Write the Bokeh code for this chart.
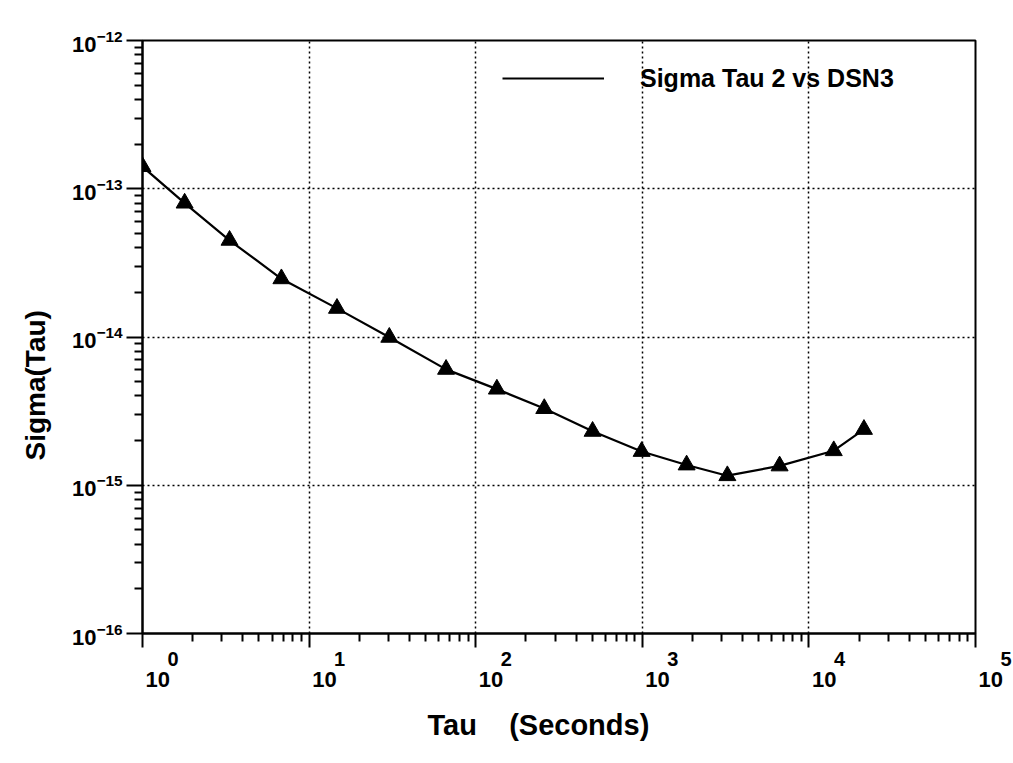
from bokeh.plotting import figure
from bokeh.models import (Range1d, Legend, LegendItem, FixedTicker, LogAxis, Title)
from bokeh.embed import file_html
from bokeh.resources import INLINE

# ---- data ----
tau = [1.0, 1.79, 3.33, 6.82, 14.7, 30.3, 66.4, 134, 258, 503, 991,
       1845, 3240, 6670, 14100, 21400]
sigma = [1.41e-13, 8.0e-14, 4.49e-14, 2.47e-14, 1.56e-14, 9.95e-15,
         6.05e-15, 4.45e-15, 3.29e-15, 2.31e-15, 1.69e-15, 1.37e-15,
         1.16e-15, 1.35e-15, 1.71e-15, 2.38e-15]

series_name = "Sigma Tau 2 vs DSN3"
x_title = "Tau\u00a0\u00a0\u00a0\u00a0(Seconds)"
y_title = "Sigma(Tau)"

x_tick_values = [1, 10, 100, 1000, 10000, 100000]
x_tick_exponents = ["0", "1", "2", "3", "4", "5"]
y_tick_values = [1e-12, 1e-13, 1e-14, 1e-15, 1e-16]

FONT_NAME = "Liberation Sans"
NB = "\u00a0"

p = figure(width=1012, height=762, x_axis_type="log", y_axis_type="log",
           x_range=Range1d(1, 1e5), y_range=Range1d(1e-16, 1e-12),
           output_backend="svg", toolbar_location=None,
           min_border_left=140, min_border_right=37,
           min_border_top=40, min_border_bottom=129)
p.background_fill_color = "white"
p.border_fill_color = "white"
p.outline_line_color = "black"
p.outline_line_width = 2

x_minor = [m * 10 ** k for k in range(0, 5) for m in range(2, 10)]
y_minor = [m * 10.0 ** k for k in range(-16, -12) for m in range(2, 10)]
p.xaxis.ticker = FixedTicker(ticks=x_tick_values, minor_ticks=x_minor)
p.yaxis.ticker = FixedTicker(ticks=y_tick_values, minor_ticks=y_minor)
p.xgrid.ticker = FixedTicker(ticks=x_tick_values)
p.ygrid.ticker = FixedTicker(ticks=y_tick_values)

for ax in (p.xaxis[0], p.yaxis[0]):
    ax.axis_line_color = "black"
    ax.axis_line_width = 2
    ax.major_tick_line_color = "black"
    ax.major_tick_line_width = 2
    ax.minor_tick_line_color = "black"
    ax.minor_tick_line_width = 2
    ax.major_tick_in = 0
    ax.minor_tick_in = 0
    ax.minor_tick_out = 8
    ax.major_label_text_font = FONT_NAME
    ax.major_label_text_font_style = "bold"
    ax.major_label_text_color = "black"
p.xaxis.major_tick_out = 14
p.yaxis.major_tick_out = 16

# y tick labels: library's own 10^n superscript labels
p.yaxis.major_label_text_font_size = "22px"
p.yaxis.major_label_standoff = 4

# x tick labels: exponents on the main axis, the "10" on a second axis below
p.xaxis.major_label_text_font_size = "20px"
p.xaxis.major_label_standoff = 0
p.xaxis.major_label_overrides = {v: NB * 11 + e for v, e in zip(x_tick_values, x_tick_exponents)}

base_axis = LogAxis(ticker=FixedTicker(ticks=x_tick_values), axis_line_color=None,
                    major_tick_line_color=None, minor_tick_line_color=None,
                    major_tick_out=0, major_tick_in=0, minor_tick_out=0, minor_tick_in=0,
                    major_label_standoff=-6,
                    major_label_text_font=FONT_NAME, major_label_text_font_style="bold",
                    major_label_text_font_size="22px", major_label_text_color="black",
                    major_label_overrides={v: NB * 5 + "10" for v in x_tick_values})
p.add_layout(base_axis, "below")

for g in (p.xgrid[0], p.ygrid[0]):
    g.grid_line_color = "black"
    g.grid_line_width = 1.5
    g.grid_line_dash = "2 3"

r_line = p.line(tau, sigma, line_color="black", line_width=2.2)
p.scatter(tau, sigma, marker="triangle", size=17,
          fill_color="black", line_color="black")

legend = Legend(items=[LegendItem(label=series_name, renderers=[r_line])],
                location=(360, 540), orientation="vertical",
                glyph_width=102, glyph_height=30, label_height=30,
                label_standoff=36, padding=0, margin=0, spacing=0,
                border_line_color=None, background_fill_alpha=0,
                label_text_font=FONT_NAME, label_text_font_style="bold",
                label_text_font_size="25px", label_text_color="black")
p.add_layout(legend)

# ---- axis titles ----
p.add_layout(Title(text=x_title, align="left", offset=285, standoff=25,
                   text_font=FONT_NAME, text_font_style="bold",
                   text_font_size="29px", text_color="black"), "below")
p.add_layout(Title(text=y_title, align="left", offset=173, standoff=35,
                   text_font=FONT_NAME, text_font_style="bold",
                   text_font_size="28px", text_color="black"), "left")

open("out.html", "w").write(file_html(p, INLINE))
